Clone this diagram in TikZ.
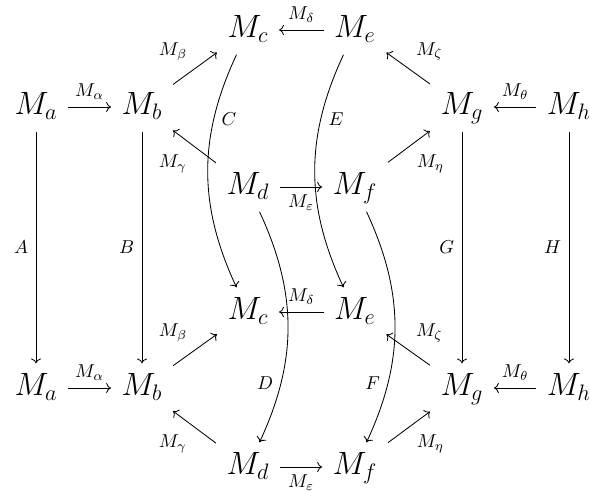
\documentclass[tikz,border=0pt]{standalone}
\usepackage{amsmath,amssymb}
\usepackage{tikz}
\usetikzlibrary{arrows.meta,positioning,calc}
\tikzset{
  obj/.style={font=\LARGE,inner sep=5.5pt,text height=11.8pt,text depth=3.3pt},
  mor/.style={line width=.45pt,->},
  lab/.style={font=\normalsize,inner sep=4pt},
  every picture/.style={x=.536pt,y=-.536pt}
}

\begin{document}
\begin{tikzpicture}
  \useasboundingbox (0,0) rectangle (590,490);
  % upper layer
  \node[obj] (a1) at (36,107) {$M_a$};
  \node[obj] (b1) at (142,107) {$M_b$};
  \node[obj] (c1) at (248,30) {$M_c$};
  \node[obj] (d1) at (248,187) {$M_d$};
  \node[obj] (e1) at (355,30) {$M_e$};
  \node[obj] (f1) at (355,187) {$M_f$};
  \node[obj] (g1) at (462,107) {$M_g$};
  \node[obj] (h1) at (569,107) {$M_h$};
  % lower layer
  \node[obj] (a2) at (36,388) {$M_a$};
  \node[obj] (b2) at (142,388) {$M_b$};
  \node[obj] (c2) at (248,312) {$M_c$};
  \node[obj] (d2) at (248,467) {$M_d$};
  \node[obj] (e2) at (355,312) {$M_e$};
  \node[obj] (f2) at (355,467) {$M_f$};
  \node[obj] (g2) at (462,388) {$M_g$};
  \node[obj] (h2) at (569,388) {$M_h$};

  \draw[mor] (a1) -- node[lab,above] {$M_\alpha$} (b1);
  \draw[mor] (b1) -- node[lab,above left] {$M_\beta$} (c1);
  \draw[mor] (d1) -- node[lab,below left] {$M_\gamma$} (b1);
  \draw[mor] (e1) -- node[lab,above] {$M_\delta$} (c1);
  \draw[mor] (d1) -- node[lab,below] {$M_\varepsilon$} (f1);
  \draw[mor] (g1) -- node[lab,above right] {$M_\zeta$} (e1);
  \draw[mor] (f1) -- node[lab,below right] {$M_\eta$} (g1);
  \draw[mor] (h1) -- node[lab,above] {$M_\theta$} (g1);

  \draw[mor] (a2) -- node[lab,above] {$M_\alpha$} (b2);
  \draw[mor] (b2) -- node[lab,above left] {$M_\beta$} (c2);
  \draw[mor] (d2) -- node[lab,below left] {$M_\gamma$} (b2);
  \draw[mor] (e2) -- node[lab,above] {$M_\delta$} (c2);
  \draw[mor] (d2) -- node[lab,below] {$M_\varepsilon$} (f2);
  \draw[mor] (g2) -- node[lab,above right] {$M_\zeta$} (e2);
  \draw[mor] (f2) -- node[lab,below right] {$M_\eta$} (g2);
  \draw[mor] (h2) -- node[lab,above] {$M_\theta$} (g2);

  % between the layers
  \draw[mor] (a1) -- node[lab,left] {$A$} (a2);
  \draw[mor] (b1) -- node[lab,left] {$B$} (b2);
  \draw[mor] (c1) to[bend right=25] node[lab,right,pos=.27] {$C$} (c2);
  \draw[mor] (d1) to[bend left=25] node[lab,left,pos=.75] {$D$} (d2);
  \draw[mor] (e1) to[bend right=25] node[lab,right,pos=.27] {$E$} (e2);
  \draw[mor] (f1) to[bend left=25] node[lab,left,pos=.75] {$F$} (f2);
  \draw[mor] (g1) -- node[lab,left] {$G$} (g2);
  \draw[mor] (h1) -- node[lab,left] {$H$} (h2);
\end{tikzpicture}
\end{document}
